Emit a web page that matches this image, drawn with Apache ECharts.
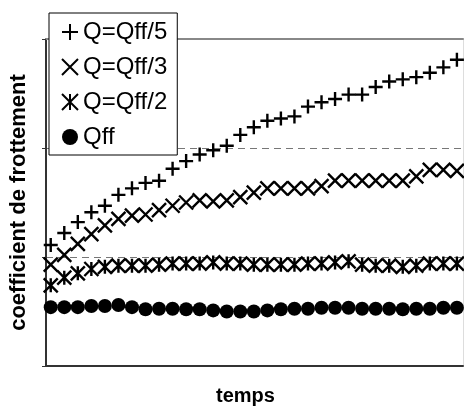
<!DOCTYPE html>
<html>
<head>
<meta charset="utf-8">
<script src="https://cdn.jsdelivr.net/npm/echarts@6/dist/echarts.min.js"></script>
<style>
  html, body { margin: 0; padding: 0; background: #fff; }
  #main { width: 464px; height: 411px; }
</style>
</head>
<body>
<div id="main"></div>
<script>
// temps (index des mesures)
const temps = [0, 1, 2, 3, 4, 5, 6, 7, 8, 9, 10, 11, 12, 13, 14, 15, 16, 17, 18, 19, 20, 21, 22, 23, 24, 25, 26, 27, 28, 29, 30]

const names = ["Q=Qff/5", "Q=Qff/3", "Q=Qff/2", "Qff"]

const qff5 = [1.11, 1.22, 1.32, 1.41, 1.47, 1.57, 1.63, 1.68, 1.70, 1.81, 1.88, 1.94, 1.98, 2.02, 2.12, 2.19,
  2.25, 2.27, 2.29, 2.38, 2.42, 2.45, 2.49, 2.49, 2.56, 2.61, 2.63, 2.65, 2.69, 2.74, 2.81]
const qff3 = [0.93, 1.02, 1.12, 1.21, 1.29, 1.35, 1.38, 1.39, 1.43, 1.47, 1.50, 1.52, 1.51, 1.52, 1.55, 1.59,
  1.63, 1.63, 1.63, 1.63, 1.65, 1.70, 1.70, 1.70, 1.70, 1.70, 1.70, 1.74, 1.80, 1.80, 1.79]
const qff2 = [0.74, 0.81, 0.85, 0.89, 0.91, 0.92, 0.92, 0.92, 0.93, 0.94, 0.94, 0.94, 0.95, 0.94, 0.94, 0.93,
  0.93, 0.93, 0.93, 0.94, 0.94, 0.95, 0.96, 0.93, 0.92, 0.92, 0.91, 0.92, 0.94, 0.94, 0.94]
const qff = [0.54, 0.54, 0.54, 0.55, 0.55, 0.56, 0.54, 0.52, 0.525, 0.525, 0.52, 0.52, 0.51, 0.50, 0.50, 0.50,
  0.51, 0.52, 0.525, 0.525, 0.535, 0.535, 0.535, 0.525, 0.525, 0.525, 0.52, 0.525, 0.525, 0.535, 0.535]

const yTicks = [0, 1, 2, 3]

const symPlus = "path://M0,7L14,7M7,0L7,14"
const symCross = "path://M0,0L14,14M14,0L0,14"
const symStar = "path://M0,0L14,14M14,0L0,14M7,0L7,14"

const font = "Liberation Sans, Arial, sans-serif"

function pairs(values) {
  return temps.map((t, i) => [t, values[i]])
}

const strokeStyle = { color: "#000", borderColor: "#000", borderWidth: 2.4, opacity: 1 }

const myChart = echarts.init(document.getElementById("main"), null, { renderer: "canvas" })

myChart.setOption({
  animation: false,
  backgroundColor: "#fff",
  grid: { left: 43, right: 1, top: 39, bottom: 41, containLabel: false },
  legend: {
    orient: "vertical",
    left: 49,
    top: 13,
    padding: [7, 10, 6, 12],
    itemGap: 11,
    itemWidth: 16,
    itemHeight: 16,
    backgroundColor: "#fff",
    borderColor: "#000",
    borderWidth: 1,
    borderRadius: 0,
    z: 10,
    textStyle: { fontFamily: font, fontSize: 24, color: "#000", lineHeight: 22 },
    data: names
  },
  xAxis: [
    {
      type: "value",
      min: -0.35,
      max: 30.45,
      name: "temps",
      nameLocation: "middle",
      nameGap: 20,
      nameTextStyle: { fontFamily: font, fontSize: 20, fontWeight: "bold", color: "#000",
        verticalAlign: "top", padding: [0, 18, 0, 0] },
      axisLine: { show: true, onZero: false, lineStyle: { color: "#333", width: 2 } },
      axisTick: { show: false },
      axisLabel: { show: false },
      splitLine: { show: false }
    },
    {
      type: "value",
      position: "top",
      min: -0.35,
      max: 30.45,
      axisLine: { show: true, onZero: false, lineStyle: { color: "#888", width: 2 } },
      axisTick: { show: false },
      axisLabel: { show: false },
      splitLine: { show: false }
    }
  ],
  yAxis: [
    {
      type: "value",
      min: yTicks[0],
      max: yTicks[yTicks.length - 1],
      interval: 1,
      name: "coefficient de frottement",
      nameLocation: "middle",
      nameGap: 16,
      nameTextStyle: { fontFamily: font, fontSize: 22, fontWeight: "bold", color: "#000" },
      axisLine: { show: true, onZero: false, lineStyle: { color: "#333", width: 2 } },
      axisTick: { show: true, length: 4, lineStyle: { color: "#333", width: 1 } },
      axisLabel: { show: false },
      splitLine: { show: true, lineStyle: { color: "#777", width: 1, type: [7, 5] } }
    },
    {
      type: "value",
      position: "right",
      min: yTicks[0],
      max: yTicks[yTicks.length - 1],
      axisLine: { show: true, onZero: false, lineStyle: { color: "#ddd", width: 1 } },
      axisTick: { show: false },
      axisLabel: { show: false },
      splitLine: { show: false }
    }
  ],
  series: [
    {
      name: names[0], type: "scatter", data: pairs(qff5), clip: false,
      symbol: symPlus, symbolSize: 14, itemStyle: strokeStyle
    },
    {
      name: names[1], type: "scatter", data: pairs(qff3), clip: false,
      symbol: symCross, symbolSize: 14, itemStyle: strokeStyle
    },
    {
      name: names[2], type: "scatter", data: pairs(qff2), clip: false,
      symbol: symStar, symbolSize: 14, itemStyle: strokeStyle
    },
    {
      name: names[3], type: "scatter", data: pairs(qff), clip: false,
      symbol: "circle", symbolSize: [14, 14], itemStyle: { color: "#000", opacity: 1 }
    }
  ]
})
</script>
</body>
</html>
